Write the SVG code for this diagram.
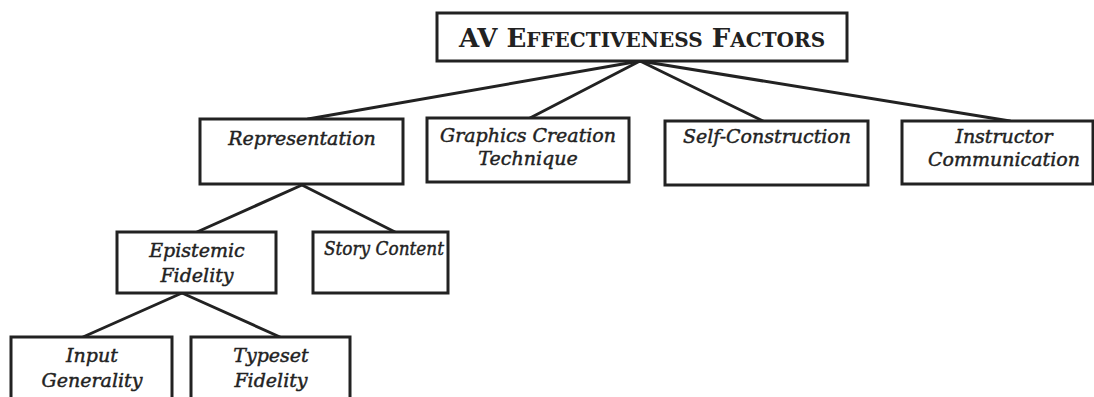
<svg xmlns="http://www.w3.org/2000/svg" width="1094" height="397" viewBox="0 0 1094 397">
<style>
.box{fill:#fff;stroke:#222;stroke-width:3}
.lbl{font-family:"DejaVu Serif","Liberation Serif",serif;font-style:italic;font-size:19px;fill:#222;stroke:#222;stroke-width:0.45;text-anchor:middle}
.ttl{font-family:"DejaVu Serif","Liberation Serif",serif;font-weight:bold;font-size:26px;fill:#222;text-anchor:middle}
.sc{font-size:20px}
#connectors line{stroke:#222;stroke-width:3;stroke-linecap:round}
</style>
<rect width="1094" height="397" fill="#fff"/>
<g id="connectors">
<line x1="640" y1="61" x2="308" y2="119"/>
<line x1="640" y1="61" x2="530" y2="118"/>
<line x1="640" y1="61" x2="763" y2="121"/>
<line x1="640" y1="61" x2="1010" y2="121"/>
<line x1="302" y1="185" x2="197" y2="232"/>
<line x1="302" y1="185" x2="395" y2="232"/>
<line x1="182" y1="293" x2="83" y2="337"/>
<line x1="182" y1="293" x2="280" y2="337"/>
</g>
<g id="root">
<rect class="box" x="437" y="13" width="410" height="48"/>
<text class="ttl" x="642" y="47">AV E<tspan class="sc">FFECTIVENESS</tspan> F<tspan class="sc">ACTORS</tspan></text>
</g>
<g id="representation">
<rect class="box" x="200" y="119" width="203" height="65"/>
<text class="lbl" x="302" y="145">Representation</text>
</g>
<g id="graphics">
<rect class="box" x="427" y="118" width="202" height="64"/>
<text class="lbl" x="528" y="142">Graphics Creation</text>
<text class="lbl" x="528" y="165">Technique</text>
</g>
<g id="selfconstruction">
<rect class="box" x="665" y="121" width="203" height="64"/>
<text class="lbl" x="767" y="143">Self-Construction</text>
</g>
<g id="instructor">
<rect class="box" x="902" y="121" width="191" height="63"/>
<text class="lbl" x="1004" y="143">Instructor</text>
<text class="lbl" x="1004" y="166">Communication</text>
</g>
<g id="epistemic">
<rect class="box" x="117" y="232" width="159" height="61"/>
<text class="lbl" x="197" y="257">Epistemic</text>
<text class="lbl" x="197" y="282">Fidelity</text>
</g>
<g id="story">
<rect class="box" x="313" y="232" width="135" height="61"/>
<text class="lbl" x="384" y="255" textLength="120" lengthAdjust="spacingAndGlyphs">Story Content</text>
</g>
<g id="input">
<rect class="box" x="11" y="337" width="161" height="70"/>
<text class="lbl" x="92" y="362">Input</text>
<text class="lbl" x="92" y="387">Generality</text>
</g>
<g id="typeset">
<rect class="box" x="191" y="337" width="159" height="70"/>
<text class="lbl" x="271" y="362">Typeset</text>
<text class="lbl" x="271" y="387">Fidelity</text>
</g>
</svg>
